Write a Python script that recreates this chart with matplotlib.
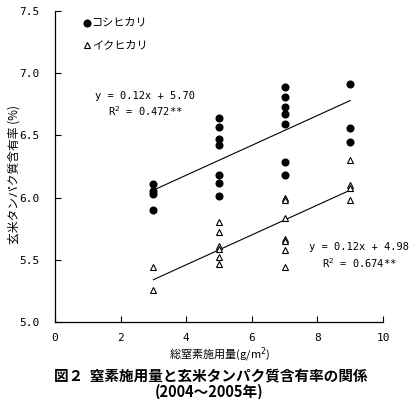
import matplotlib
matplotlib.use("Agg")
import matplotlib.pyplot as plt
import numpy as np

plt.rcParams['font.family'] = ['Noto Sans CJK JP', 'DejaVu Sans']

# Koshihikari (filled circles)
kosh_x = [3, 3, 3, 3,
          5, 5, 5, 5, 5, 5, 5,
          7, 7, 7, 7, 7, 7, 7,
          9, 9, 9]
kosh_y = [6.11, 6.05, 6.03, 5.90,
          6.64, 6.57, 6.47, 6.42, 6.18, 6.12, 6.01,
          6.89, 6.81, 6.73, 6.67, 6.59, 6.29, 6.18,
          6.91, 6.56, 6.45]
# Ikuhikari (open triangles)
iku_x = [3, 3,
         5, 5, 5, 5, 5, 5,
         7, 7, 7, 7, 7, 7, 7,
         9, 9, 9, 9]
iku_y = [5.44, 5.26,
         5.80, 5.72, 5.61, 5.59, 5.52, 5.47,
         6.00, 5.98, 5.84, 5.67, 5.65, 5.58, 5.44,
         6.30, 6.10, 6.08, 5.98]

kosh_fit = (0.12, 5.70)
iku_fit = (0.12, 4.98)
fit_x = [3, 9]

series_labels = ['コシヒカリ', 'イクヒカリ']
eq_texts = ['y = 0.12x + 5.70\nR$^2$ = 0.472**', 'y = 0.12x + 4.98\nR$^2$ = 0.674**']
xticks = [0, 2, 4, 6, 8, 10]
yticks = [5.0, 5.5, 6.0, 6.5, 7.0, 7.5]

fig = plt.figure(figsize=(4.13, 3.99), dpi=100)
ax = fig.add_axes([55/413, 1-322/399, (383-55)/413, (322-11)/399])

ax.plot(kosh_x, kosh_y, 'o', color='black', markersize=4.8, zorder=3)
ax.plot(iku_x, iku_y, '^', markerfacecolor='white', markeredgecolor='black',
        markersize=4.8, markeredgewidth=0.8, zorder=3)

fx = np.array(fit_x, dtype=float)
ax.plot(fx, kosh_fit[0]*fx + kosh_fit[1], color='black', lw=0.8)
ax.plot(fx, iku_fit[0]*fx + iku_fit[1], color='black', lw=0.8)

ax.set_xlim(0, 10)
ax.set_ylim(5.0, 7.5)
ax.set_xticks(xticks)
ax.set_yticks(yticks)
ax.set_xticklabels([str(v) for v in xticks], family='DejaVu Sans Mono', fontsize=8)
ax.set_yticklabels([f'{v:.1f}' for v in yticks], family='DejaVu Sans Mono', fontsize=8)
ax.tick_params(direction='in', length=4, width=0.8)
ax.tick_params(axis='x', pad=8)
ax.tick_params(axis='y', pad=11)
for s in ['top', 'right']:
    ax.spines[s].set_visible(False)
for s in ['left', 'bottom']:
    ax.spines[s].set_linewidth(0.9)

# legend as text with markers
ax.plot([0.98], [7.405], 'o', color='black', markersize=4.8, clip_on=False)
ax.text(1.12, 7.405, series_labels[0], fontsize=8, va='center', ha='left')
ax.plot([0.98], [7.225], '^', markerfacecolor='white', markeredgecolor='black',
        markersize=4.8, markeredgewidth=0.8, clip_on=False)
ax.text(1.12, 7.225, series_labels[1], fontsize=8, va='center', ha='left')

ax.text(2.75, 6.75, eq_texts[0], fontsize=7.5, ha='center', va='center',
        family='DejaVu Sans Mono', linespacing=1.3)
ax.text(9.28, 5.53, eq_texts[1], fontsize=7.5, ha='center', va='center',
        family='DejaVu Sans Mono', linespacing=1.3, clip_on=False)

fig.text(14/413, 1-175/399, '玄米タンパク質含有率 (%)', fontsize=8.5, rotation=90,
         ha='center', va='center')
fig.text(0.533, 1-355/399, '総窒素施用量(g/m$^2$)', fontsize=8, ha='center', va='center')
fig.text(0.51, 1-376/399, '図２  窒素施用量と玄米タンパク質含有率の関係', fontsize=10.5,
         fontweight='bold', ha='center', va='center')
fig.text(0.506, 1-392/399, '(2004～2005年)', fontsize=10.5, fontweight='bold',
         ha='center', va='center')

fig.savefig('out.png', dpi=100)
